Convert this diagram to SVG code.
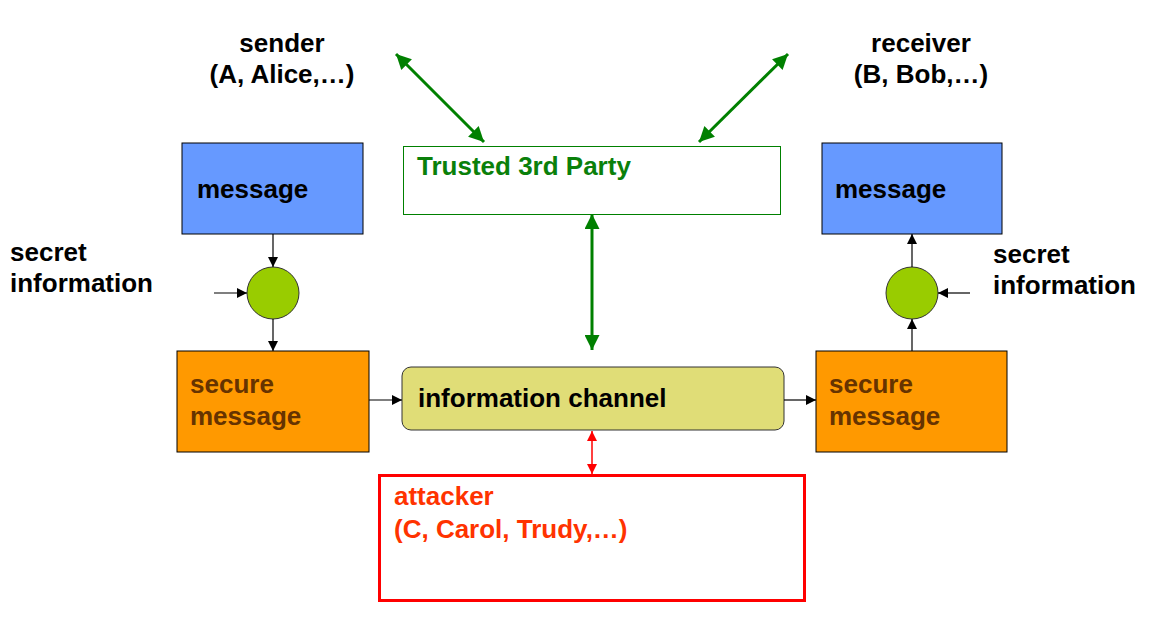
<svg xmlns="http://www.w3.org/2000/svg" width="1152" height="625" viewBox="0 0 1152 625">
<defs>
<style>
text{font-family:"Liberation Sans",Arial,sans-serif;font-weight:bold;font-size:26px}
.blk{fill:#000}
.brn{fill:#663300}
.grn{fill:#0a800a}
.red{fill:#ff3300}
.c{stroke:#000;stroke-width:1.2;fill:none}
.g{stroke:#008000;stroke-width:3;fill:none}
.r{stroke:#ff0000;stroke-width:1.5;fill:none}
</style>
<marker id="ab" viewBox="0 0 10 10" refX="10" refY="5" markerWidth="10" markerHeight="10" markerUnits="userSpaceOnUse" orient="auto-start-reverse"><path d="M0,0 L10,5 L0,10 z" fill="#000"/></marker>
<marker id="ag" viewBox="0 0 10 10" refX="10" refY="5" markerWidth="5.5" markerHeight="5" orient="auto-start-reverse"><path d="M0,0 L10,5 L0,10 z" fill="#008000"/></marker>
<marker id="ar" viewBox="0 0 10 10" refX="10" refY="5" markerWidth="11" markerHeight="10" markerUnits="userSpaceOnUse" orient="auto-start-reverse"><path d="M0,0 L10,5 L0,10 z" fill="#ff0000"/></marker>
</defs>
<rect width="1152" height="625" fill="#fff"/>

<g id="sender"><text x="282" y="52" text-anchor="middle" class="blk">sender</text><text x="282" y="83" text-anchor="middle" class="blk">(A, Alice,…)</text></g>
<g id="receiver"><text x="921" y="52" text-anchor="middle" class="blk">receiver</text><text x="921" y="83" text-anchor="middle" class="blk">(B, Bob,…)</text></g>

<g id="msg-left"><rect x="182" y="143" width="181" height="91" fill="#6699ff" stroke="#000" stroke-width="1"/><text x="197" y="198" class="blk">message</text></g>
<g id="msg-right"><rect x="822" y="143" width="180" height="91" fill="#6699ff" stroke="#000" stroke-width="1"/><text x="835" y="198" class="blk">message</text></g>

<g id="secret-left"><text x="10" y="261" class="blk">secret</text><text x="10" y="292" class="blk">information</text></g>
<g id="secret-right"><text x="993" y="263" class="blk">secret</text><text x="993" y="294" class="blk">information</text></g>

<g id="enc-left"><circle cx="273" cy="293" r="26" fill="#99cc00" stroke="#333" stroke-width="1"/></g>
<g id="enc-right"><circle cx="912" cy="293" r="26" fill="#99cc00" stroke="#333" stroke-width="1"/></g>

<g id="secure-left"><rect x="177" y="351" width="192" height="101" fill="#ff9900" stroke="#000" stroke-width="1"/><text x="190" y="393" class="brn">secure</text><text x="190" y="425" class="brn">message</text></g>
<g id="secure-right"><rect x="816" y="351" width="191" height="101" fill="#ff9900" stroke="#000" stroke-width="1"/><text x="829" y="393" class="brn">secure</text><text x="829" y="425" class="brn">message</text></g>

<g id="trusted"><rect x="403.5" y="146.5" width="377" height="68" fill="#fff" stroke="#008000" stroke-width="1"/><text x="417" y="175" class="grn" font-size="24">Trusted 3rd Party</text></g>

<g id="channel"><rect x="402" y="367" width="382" height="63" rx="9" fill="#e0dd77" stroke="#333" stroke-width="1"/><text x="418" y="407" class="blk">information channel</text></g>

<g id="attacker"><rect x="379.5" y="475.5" width="425" height="125" fill="#fff" stroke="#ff0000" stroke-width="3"/><text x="394" y="505" class="red" font-size="24">attacker</text><text x="394" y="538" class="red" font-size="24">(C, Carol, Trudy,…)</text></g>

<g id="connectors">
<line x1="273" y1="234" x2="273" y2="267" class="c" marker-end="url(#ab)"/>
<line x1="214" y1="293" x2="247" y2="293" class="c" marker-end="url(#ab)"/>
<line x1="273" y1="319" x2="273" y2="351" class="c" marker-end="url(#ab)"/>
<line x1="369" y1="400" x2="402" y2="400" class="c" marker-end="url(#ab)"/>
<line x1="784" y1="400" x2="816" y2="400" class="c" marker-end="url(#ab)"/>
<line x1="912" y1="351" x2="912" y2="319" class="c" marker-end="url(#ab)"/>
<line x1="970" y1="293" x2="938" y2="293" class="c" marker-end="url(#ab)"/>
<line x1="912" y1="267" x2="912" y2="234" class="c" marker-end="url(#ab)"/>
<line x1="396" y1="54" x2="484" y2="142" class="g" marker-start="url(#ag)" marker-end="url(#ag)"/>
<line x1="788" y1="54" x2="699" y2="142" class="g" marker-start="url(#ag)" marker-end="url(#ag)"/>
<line x1="592" y1="214" x2="592" y2="350" class="g" marker-start="url(#ag)" marker-end="url(#ag)"/>
<line x1="592" y1="431" x2="592" y2="474" class="r" marker-start="url(#ar)" marker-end="url(#ar)"/>
</g>
</svg>
